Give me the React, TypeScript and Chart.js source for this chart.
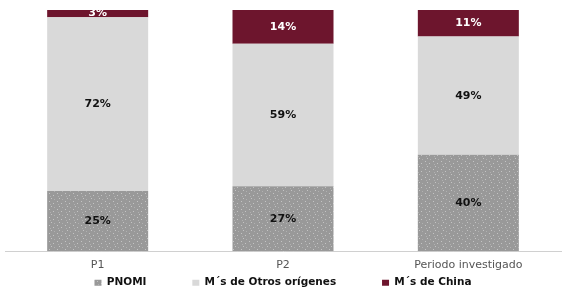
import React, { useEffect, useRef } from "react";
import { Chart, registerables } from "chart.js";

Chart.register(...registerables);

const categories = ["P1", "P2", "Periodo investigado"];
const pnomi = [25, 27, 40];
const otros = [72, 59, 49];
const china = [3, 14, 11];
const seriesNames = ["PNOMI", "M´s de Otros orígenes", "M´s de China"];

function makePattern(): CanvasPattern | string {
  const c = document.createElement("canvas");
  c.width = 8;
  c.height = 8;
  const g = c.getContext("2d");
  if (!g) return "#9a9a9a";
  g.fillStyle = "#999999";
  g.fillRect(0, 0, 8, 8);
  g.fillStyle = "#c4c4c4";
  g.fillRect(1, 1, 1, 1);
  g.fillRect(5, 3, 1, 1);
  g.fillRect(3, 6, 1, 1);
  g.fillStyle = "#b0b0b0";
  g.fillRect(6, 7, 1, 1);
  g.fillRect(2, 4, 1, 1);
  const p = g.createPattern(c, "repeat");
  return p || "#9a9a9a";
}

const labelPlugin = {
  id: "barLabels",
  afterDatasetsDraw(chart: any) {
    const ctx = chart.ctx;
    ctx.save();
    ctx.font = "bold 11px 'DejaVu Sans', sans-serif";
    ctx.textAlign = "center";
    ctx.textBaseline = "middle";
    chart.data.datasets.forEach((ds: any, di: number) => {
      const meta = chart.getDatasetMeta(di);
      meta.data.forEach((bar: any, i: number) => {
        const v = ds.data[i];
        const cy = (bar.y + bar.base) / 2;
        ctx.fillStyle = di === 2 ? "#ffffff" : "#111111";
        ctx.fillText(v + "%", bar.x, cy);
      });
    });
    ctx.restore();
  },
};

export default function App() {
  const ref = useRef<HTMLCanvasElement | null>(null);
  useEffect(() => {
    if (!ref.current) return;
    const pattern = makePattern();
    const chart = new Chart(ref.current, {
      type: "bar",
      data: {
        labels: categories,
        datasets: [
          { label: seriesNames[0], data: pnomi, backgroundColor: pattern as any },
          { label: seriesNames[1], data: otros, backgroundColor: "#d9d9d9" },
          { label: seriesNames[2], data: china, backgroundColor: "#6d152d" },
        ],
      },
      options: {
        animation: false,
        responsive: false,
        maintainAspectRatio: false,
        layout: { padding: { top: 10, left: 5, right: 3, bottom: -9 } },
        datasets: { bar: { categoryPercentage: 1, barPercentage: 0.545 } },
        scales: {
          x: {
            stacked: true,
            grid: { display: false },
            border: { display: true, color: "#d0d0d0", width: 1 },
            ticks: {
              color: "#555555",
              font: { family: "'DejaVu Sans', sans-serif", size: 11 },
              padding: -1,
            },
          },
          y: { stacked: true, display: false, min: 0, max: 100 },
        },
        plugins: {
          tooltip: { enabled: false },
          legend: {
            position: "bottom",
            labels: {
              boxWidth: 7,
              boxHeight: 6,
              padding: 7,
              color: "#111111",
              font: { family: "'DejaVu Sans', sans-serif", size: 10.5, weight: "bold" },
              generateLabels(chart: any) {
                const items = Chart.defaults.plugins.legend.labels.generateLabels(chart);
                return items.map((it: any, i: number) => ({
                  ...it,
                  lineWidth: 0,
                  text: i < items.length - 1 ? it.text + "\u2003\u2003\u2003\u2002\u2009" : it.text,
                }));
              },
            },
          },
        },
      },
      plugins: [labelPlugin],
    });
    return () => chart.destroy();
  }, []);
  return (
    <div style={{ position: "fixed", left: 0, top: 0, width: 564, height: 289, background: "#fff" }}>
      <canvas ref={ref} width={564} height={289} style={{ width: 564, height: 289 }} />
    </div>
  );
}
